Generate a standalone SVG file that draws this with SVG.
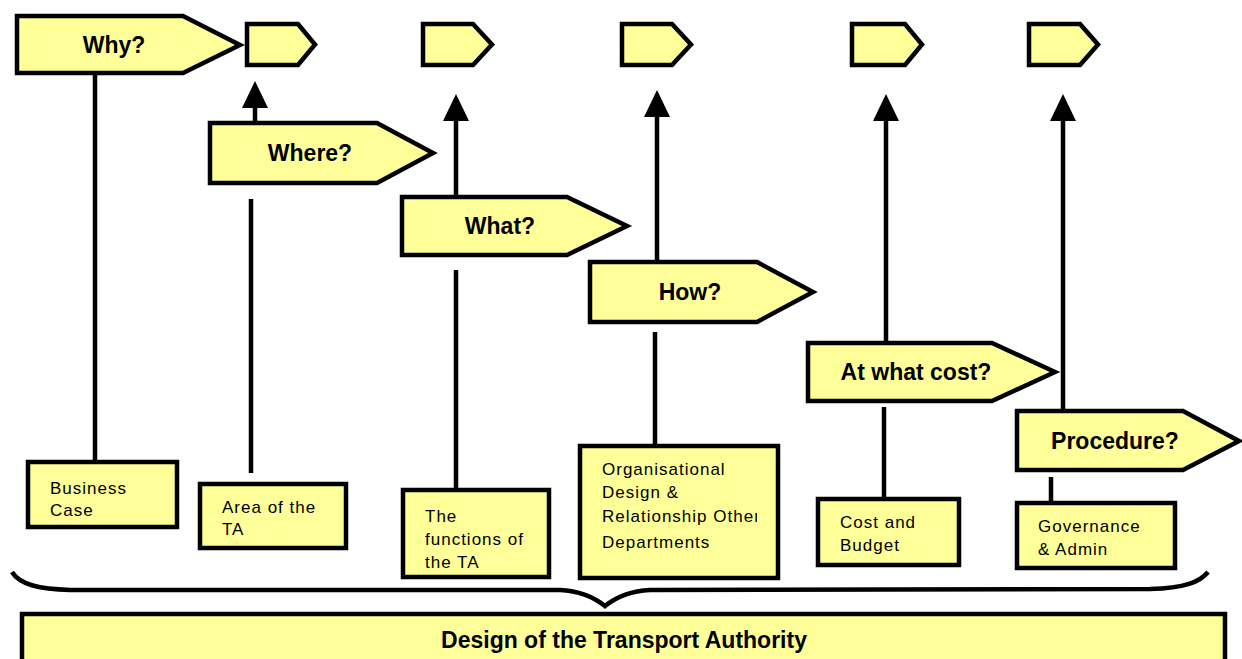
<svg xmlns="http://www.w3.org/2000/svg" width="1242" height="659" viewBox="0 0 1242 659">
<style>
.shape{fill:#ffff99;stroke:#000;stroke-width:4.5;stroke-linejoin:miter}
.conn{stroke:#000;stroke-width:4.5;fill:none}
.big{font-family:"Liberation Sans",Arial,sans-serif;font-weight:bold;font-size:23px;text-anchor:middle;fill:#000}
.small{font-family:"Liberation Sans",Arial,sans-serif;font-size:17px;letter-spacing:1px;fill:#000}
</style>
<defs>
<marker id="head" markerUnits="userSpaceOnUse" markerWidth="28" markerHeight="28" viewBox="0 0 28 28" refX="0" refY="14" orient="auto">
<path d="M0,1 L27,14 L0,27 z" fill="#000"/>
</marker>
<clipPath id="orgclip"><rect x="580" y="446" width="177" height="132"/></clipPath>
</defs>
<rect width="1242" height="659" fill="#fff"/>

<g id="connectors">
<line class="conn" x1="255" y1="123" x2="255" y2="108" marker-end="url(#head)"/>
<line class="conn" x1="456" y1="197" x2="456" y2="121" marker-end="url(#head)"/>
<line class="conn" x1="657" y1="262" x2="657" y2="117" marker-end="url(#head)"/>
<line class="conn" x1="886" y1="343" x2="886" y2="121" marker-end="url(#head)"/>
<line class="conn" x1="1063" y1="411" x2="1063" y2="121" marker-end="url(#head)"/>
<line class="conn" x1="95" y1="73" x2="95" y2="462"/>
<line class="conn" x1="251" y1="199" x2="251" y2="473"/>
<line class="conn" x1="456" y1="270" x2="456" y2="490"/>
<line class="conn" x1="655" y1="332" x2="655" y2="446"/>
<line class="conn" x1="884" y1="407" x2="884" y2="499"/>
<line class="conn" x1="1051" y1="477" x2="1051" y2="503"/>
<path class="conn" d="M12,572 C20,585 40,589 70,590 L560,590 C580,591 595,598 605,606 C615,598 630,591 650,590 L1150,589 C1185,588 1200,582 1208,572"/>
</g>

<g id="why">
<polygon class="shape" points="17,16 183,16 240,45 183,73 17,73"/>
<text class="big" x="114" y="53">Why?</text>
</g>
<g id="tag1"><polygon class="shape" points="247,24 298,24 315,44.5 298,65 247,65"/></g>
<g id="tag2"><polygon class="shape" points="423,24 473,24 492,44.5 473,65 423,65"/></g>
<g id="tag3"><polygon class="shape" points="622,24 672,24 691,44.5 672,65 622,65"/></g>
<g id="tag4"><polygon class="shape" points="852,24 905,24 922,44.5 905,65 852,65"/></g>
<g id="tag5"><polygon class="shape" points="1029,24 1080,24 1098,44.5 1080,65 1029,65"/></g>

<g id="where">
<polygon class="shape" points="210,123 377,123 433,153 377,183 210,183"/>
<text class="big" x="310" y="161">Where?</text>
</g>
<g id="what">
<polygon class="shape" points="402,197 567,197 627,226 567,255 402,255"/>
<text class="big" x="500" y="234">What?</text>
</g>
<g id="how">
<polygon class="shape" points="590,262 757,262 813,292 757,322 590,322"/>
<text class="big" x="690" y="300">How?</text>
</g>
<g id="cost">
<polygon class="shape" points="808,343 992,343 1055,372 992,401 808,401"/>
<text class="big" x="916" y="380">At what cost?</text>
</g>
<g id="procedure">
<polygon class="shape" points="1017,411 1183,411 1239,441 1183,470 1017,470"/>
<text class="big" x="1115" y="449">Procedure?</text>
</g>

<g id="business-case">
<rect class="shape" x="28" y="462" width="149" height="65"/>
<text class="small" x="50" y="494">Business</text>
<text class="small" x="50" y="516">Case</text>
</g>
<g id="area">
<rect class="shape" x="200" y="484" width="146" height="64"/>
<text class="small" x="222" y="513">Area of the</text>
<text class="small" x="222" y="535">TA</text>
</g>
<g id="functions">
<rect class="shape" x="403" y="490" width="146" height="87"/>
<text class="small" x="425" y="522">The</text>
<text class="small" x="425" y="545">functions of</text>
<text class="small" x="425" y="568">the TA</text>
</g>
<g id="organisational">
<rect class="shape" x="580" y="446" width="198" height="132"/>
<g clip-path="url(#orgclip)">
<text class="small" x="602" y="475">Organisational</text>
<text class="small" x="602" y="498">Design &amp;</text>
<text class="small" x="602" y="522">Relationship Other</text>
<text class="small" x="602" y="548">Departments</text>
</g>
</g>
<g id="cost-budget">
<rect class="shape" x="818" y="499" width="141" height="66"/>
<text class="small" x="840" y="528">Cost and</text>
<text class="small" x="840" y="551">Budget</text>
</g>
<g id="governance">
<rect class="shape" x="1017" y="503" width="158" height="65"/>
<text class="small" x="1038" y="532">Governance</text>
<text class="small" x="1038" y="555">&amp; Admin</text>
</g>

<g id="design">
<rect class="shape" x="22" y="614" width="1203" height="60"/>
<text class="big" x="624" y="648">Design of the Transport Authority</text>
</g>
</svg>
